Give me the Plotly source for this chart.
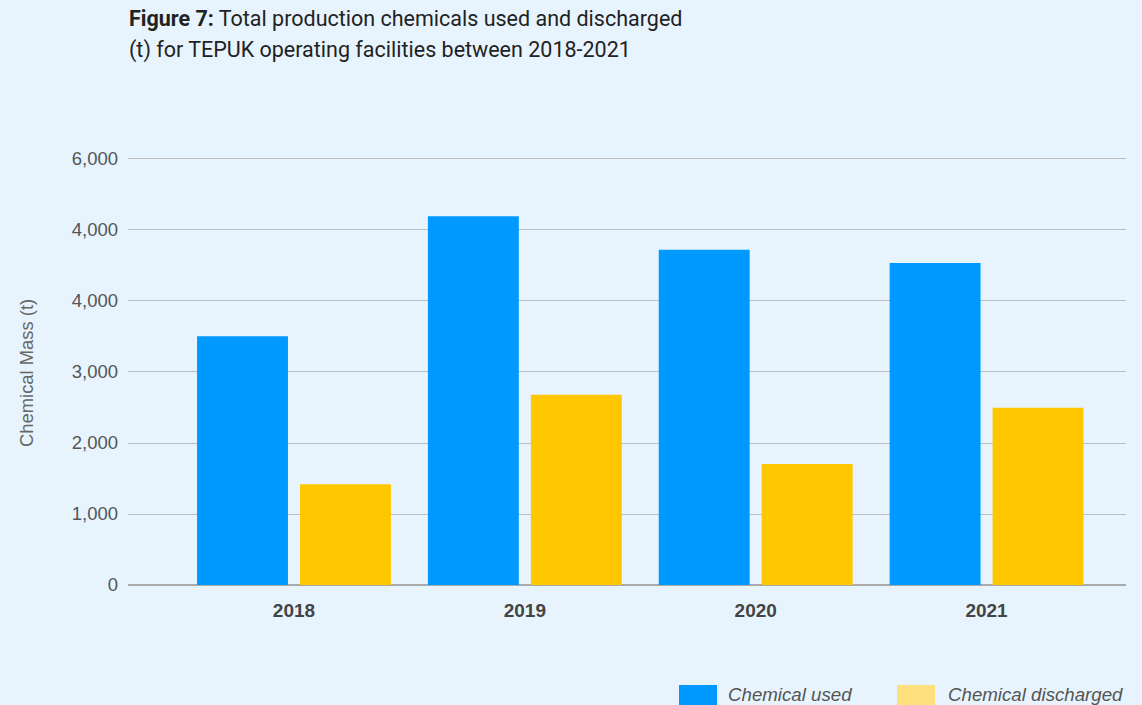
import plotly.graph_objects as go

# ---- data ----
years = ["2018", "2019", "2020", "2021"]
chemical_used = [3505, 5195, 4720, 4535]
chemical_discharged = [1420, 2680, 1705, 2495]
series_names = ["Chemical used", "Chemical discharged"]
y_tick_values = [0, 1000, 2000, 3000, 4000, 5000, 6000]
y_tick_labels = ["0", "1,000", "2,000", "3,000", "4,000", "4,000", "6,000"]
title_line1 = "<b>Figure 7:</b> Total production chemicals used and discharged"
title_line2 = "(t) for TEPUK operating facilities between 2018-2021"
y_title = "Chemical Mass (t)"

# ---- style ----
W, H = 1142, 705
L, R, T, B = 128, 16, 157, 120
Y_TOP = 6028
BG = "#E7F4FE"
BLUE = "#0099FF"
YELLOW = "#FFC700"
YELLOW_LEG = "#FFE07E"
PW = W - L - R
PH = H - T - B
FONT = "Liberation Sans, Arial, Helvetica"


def px_x(px):
    return (px - L) / PW


def px_y(py):
    return (H - B - py) / PH


fig = go.Figure()
fig.add_trace(go.Bar(x=years, y=chemical_used, name=series_names[0],
                     marker=dict(color=BLUE, line=dict(width=0)), showlegend=False))
fig.add_trace(go.Bar(x=years, y=chemical_discharged, name=series_names[1],
                     marker=dict(color=YELLOW, line=dict(width=0)), showlegend=False))

annotations = [
    dict(text=title_line1, x=px_x(127), y=px_y(18), xref="paper", yref="paper",
         xanchor="left", yanchor="middle", showarrow=False,
         font=dict(family="Roboto", size=21.5, color="#222222")),
    dict(text=title_line2, x=px_x(127), y=px_y(50), xref="paper", yref="paper",
         xanchor="left", yanchor="middle", showarrow=False,
         font=dict(family="Roboto", size=21.5, color="#222222")),
    dict(text=y_title, x=px_x(26), y=px_y(373), xref="paper", yref="paper",
         xanchor="center", yanchor="middle", textangle=-90, showarrow=False,
         font=dict(family=FONT, size=18.4, color="#666666")),
    dict(text="<i>" + series_names[0] + "</i>", x=px_x(726), y=px_y(694),
         xref="paper", yref="paper", xanchor="left", yanchor="middle", showarrow=False,
         font=dict(family=FONT, size=18.7, color="#555555")),
    dict(text="<i>" + series_names[1] + "</i>", x=px_x(946), y=px_y(694),
         xref="paper", yref="paper", xanchor="left", yanchor="middle", showarrow=False,
         font=dict(family=FONT, size=18.7, color="#555555")),
]

shapes = [
    dict(type="rect", xref="paper", yref="paper", x0=px_x(679), x1=px_x(717),
         y0=px_y(685), y1=px_y(712), fillcolor=BLUE, line=dict(width=0)),
    dict(type="rect", xref="paper", yref="paper", x0=px_x(897), x1=px_x(935),
         y0=px_y(685), y1=px_y(712), fillcolor=YELLOW_LEG, line=dict(width=0)),
]

fig.update_layout(
    width=W, height=H,
    margin=dict(l=L, r=R, t=T, b=B, pad=0),
    paper_bgcolor=BG, plot_bgcolor=BG,
    barmode="group", bargap=0.108, bargroupgap=0.117,
    showlegend=False,
    annotations=annotations,
    shapes=shapes,
    xaxis=dict(range=[-0.719, 3.604], showgrid=False, zeroline=False,
               showline=False, ticks="", ticklabelstandoff=12,
               tickfont=dict(family=FONT, size=19, color="#444444"),
               tickprefix="<b>", ticksuffix="</b>"),
    yaxis=dict(range=[0, Y_TOP], tickmode="array", tickvals=y_tick_values,
               ticktext=y_tick_labels, showgrid=True, gridcolor="#BDBDBD", gridwidth=1,
               zeroline=True, zerolinecolor="#AAAAAA", zerolinewidth=2,
               showline=False, ticks="", ticklabelstandoff=9,
               tickfont=dict(family=FONT, size=18.5, color="#555555")),
)

fig.write_html("out.html",
               config={"displayModeBar": False},
               post_script="document.body.style.margin='0';document.body.style.background='%s';" % BG)
